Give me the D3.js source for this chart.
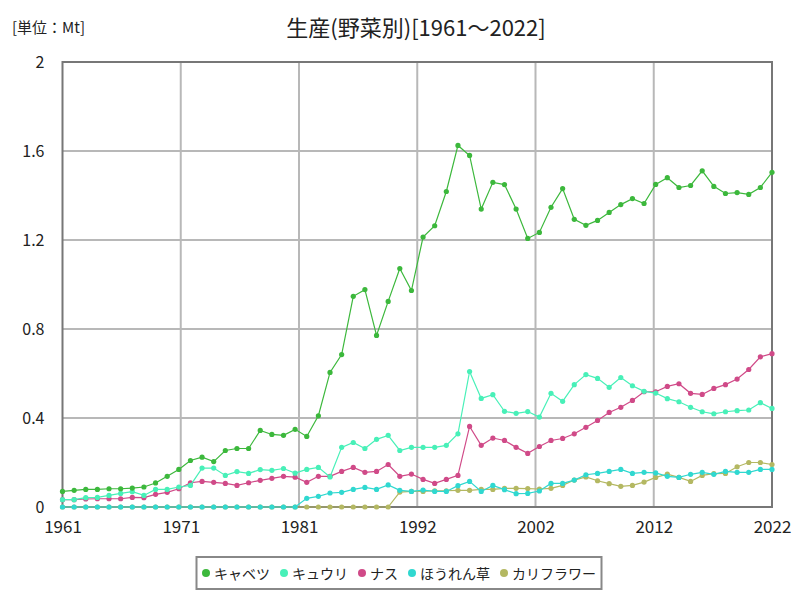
<!DOCTYPE html>
<html>
<head>
<meta charset="utf-8">
<script src="https://cdn.jsdelivr.net/npm/d3@7"></script>
<style>
  html, body { margin: 0; padding: 0; background: #fff; }
  svg { display: block; }
  text { font-family: "Noto Sans CJK JP", "Noto Sans", sans-serif; fill: #222; }
</style>
</head>
<body>
<svg id="chart" width="800" height="600"></svg>
<script>
const titleText = "生産(野菜別)[1961～2022]";
const unitText = "[単位：Mt]";
const years = d3.range(1961, 2023);
const seriesNames = ["キャベツ", "キュウリ", "ナス", "ほうれん草", "カリフラワー"];
const seriesColors = ["#3cb83c", "#48f0b8", "#d04a88", "#30d8d0", "#b4b862"];

const cabbage = [0.070,0.075,0.079,0.079,0.082,0.082,0.085,0.090,0.108,0.138,
  0.169,0.209,0.224,0.204,0.254,0.263,0.263,0.344,0.326,0.322,
  0.349,0.317,0.410,0.605,0.685,0.947,0.977,0.771,0.924,1.072,
  0.973,1.213,1.264,1.418,1.625,1.580,1.339,1.459,1.449,1.339,
  1.207,1.234,1.347,1.431,1.293,1.266,1.288,1.324,1.359,1.386,
  1.364,1.450,1.480,1.436,1.445,1.511,1.441,1.409,1.413,1.405,
  1.436,1.504];
const cucumber = [0.033,0.033,0.042,0.043,0.052,0.061,0.069,0.052,0.079,0.079,
  0.090,0.097,0.175,0.175,0.142,0.159,0.151,0.168,0.165,0.173,
  0.152,0.169,0.178,0.135,0.268,0.290,0.263,0.304,0.322,0.254,
  0.268,0.268,0.268,0.277,0.329,0.609,0.488,0.505,0.430,0.421,
  0.429,0.404,0.511,0.475,0.550,0.595,0.578,0.538,0.582,0.545,
  0.520,0.512,0.487,0.473,0.448,0.428,0.419,0.428,0.433,0.436,
  0.469,0.443];
const eggplant = [0.033,0.033,0.036,0.037,0.037,0.037,0.043,0.042,0.057,0.066,
  0.082,0.109,0.115,0.111,0.106,0.097,0.109,0.120,0.129,0.138,
  0.134,0.111,0.138,0.138,0.160,0.178,0.156,0.160,0.191,0.138,
  0.148,0.124,0.106,0.124,0.142,0.362,0.277,0.310,0.299,0.268,
  0.241,0.272,0.299,0.308,0.329,0.358,0.389,0.425,0.448,0.479,
  0.518,0.518,0.542,0.554,0.511,0.506,0.533,0.550,0.575,0.618,
  0.675,0.689];
const spinach = [0,0,0,0,0,0,0,0,0,0,
  0,0,0,0,0,0,0,0,0,0,
  0,0.039,0.048,0.063,0.066,0.079,0.088,0.079,0.099,0.075,
  0.070,0.076,0.070,0.070,0.096,0.115,0.070,0.097,0.078,0.060,
  0.061,0.072,0.106,0.106,0.121,0.145,0.151,0.160,0.169,0.151,
  0.156,0.153,0.138,0.133,0.147,0.156,0.147,0.160,0.156,0.156,
  0.169,0.169];
const cauliflower = [0,0,0,0,0,0,0,0,0,0,
  0,0,0,0,0,0,0,0,0,0,
  0,0,0,0,0,0,0,0,0,0.067,
  0.070,0.070,0.073,0.073,0.075,0.075,0.079,0.079,0.084,0.084,
  0.083,0.081,0.084,0.097,0.121,0.135,0.118,0.105,0.093,0.097,
  0.112,0.133,0.148,0.133,0.115,0.142,0.150,0.151,0.181,0.200,
  0.200,0.191];
const seriesValues = [cabbage, cucumber, eggplant, spinach, cauliflower];

const yTicks = [0, 0.4, 0.8, 1.2, 1.6, 2];
const xTickLabels = ["1961", "1971", "1981", "1992", "2002", "2012", "2022"];

const svg = d3.select("#chart");
const margin = {left: 62.5, right: 28, top: 62, bottom: 93};
const W = 800, H = 600;
const x = d3.scaleLinear().domain([1961, 2022]).range([margin.left, W - margin.right]);
const y = d3.scaleLinear().domain([0, 2]).range([H - margin.bottom, margin.top]);

// title
svg.append("text").attr("x", 416).attr("y", 36).attr("text-anchor", "middle")
  .style("font-size", "22px").text(titleText);
svg.append("text").attr("x", 12).attr("y", 33).style("font-size", "15px").text(unitText);

// x tick positions: equally spaced across domain, labelled with rounded years
const xTickPos = xTickLabels.map((d, i) => 1961 + (2022 - 1961) * i / (xTickLabels.length - 1));

// grid
const grid = svg.append("g");
grid.selectAll("line.v").data(xTickPos.slice(1, -1)).enter().append("line")
  .attr("x1", d => x(d)).attr("x2", d => x(d))
  .attr("y1", y(0)).attr("y2", y(2))
  .attr("stroke", "#b8b8b8").attr("stroke-width", 2);
grid.selectAll("line.h").data(yTicks.slice(1, -1)).enter().append("line")
  .attr("x1", x(1961)).attr("x2", x(2022))
  .attr("y1", d => y(d)).attr("y2", d => y(d))
  .attr("stroke", "#b8b8b8").attr("stroke-width", 2);

// axes labels via d3 axes
const xAxis = d3.axisBottom(x).tickValues(xTickPos)
  .tickFormat((d, i) => xTickLabels[i]).tickSize(0).tickPadding(14);
const gx = svg.append("g").attr("transform", `translate(0,${y(0)})`).call(xAxis);
gx.select(".domain").remove();
gx.selectAll("text").style("font-size", "17px").style("font-family", '"Noto Sans CJK JP", sans-serif').attr("fill", "#222");

const yAxis = d3.axisLeft(y).tickValues(yTicks).tickFormat(d3.format("~g")).tickSize(0).tickPadding(18);
const gy = svg.append("g").attr("transform", `translate(${x(1961)},0)`).call(yAxis);
gy.select(".domain").remove();
gy.selectAll("text").style("font-size", "16px").style("font-family", '"Noto Sans CJK JP", sans-serif').attr("fill", "#222");

// frame
svg.append("rect").attr("x", x(1961)).attr("y", y(2))
  .attr("width", x(2022) - x(1961)).attr("height", y(0) - y(2))
  .attr("fill", "none").attr("stroke", "#777").attr("stroke-width", 2);

// series
const line = d3.line().x((d, i) => x(years[i])).y(d => y(d));
const order = [4, 3, 2, 1, 0];
order.forEach(s => {
  const g = svg.append("g");
  g.append("path").datum(seriesValues[s]).attr("d", line)
    .attr("fill", "none").attr("stroke", seriesColors[s]).attr("stroke-width", 1.2);
  g.selectAll("circle").data(seriesValues[s]).enter().append("circle")
    .attr("cx", (d, i) => x(years[i])).attr("cy", d => y(d)).attr("r", 2.6)
    .attr("fill", seriesColors[s]);
});

// legend
const lg = svg.append("g");
const box = lg.append("rect").attr("x", 196.5).attr("y", 557).attr("width", 405).attr("height", 32)
  .attr("fill", "#fff").attr("stroke", "#888").attr("stroke-width", 2);
let cx = 206;
seriesNames.forEach((name, i) => {
  lg.append("circle").attr("cx", cx).attr("cy", 573).attr("r", 4).attr("fill", seriesColors[i]);
  const t = lg.append("text").attr("x", cx + 8).attr("y", 578.5).style("font-size", "14px").text(name);
  const w = t.node().getComputedTextLength();
  cx = cx + 8 + w + 14;
});
</script>
</body>
</html>
